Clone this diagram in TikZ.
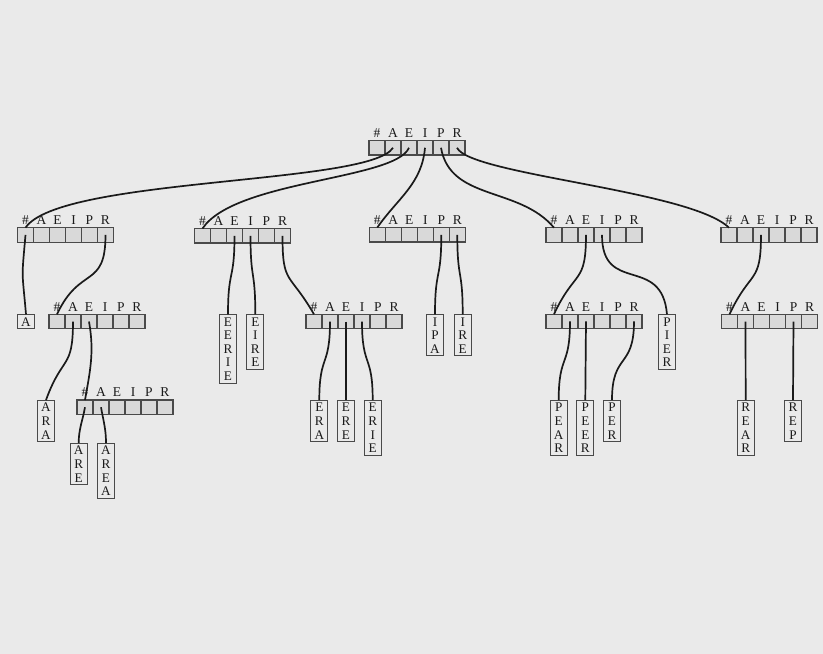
\documentclass[tikz,border=0pt]{standalone}
\usepackage{fontspec}
\setmainfont{Liberation Serif}
\definecolor{paper}{HTML}{EAEAEA}
\definecolor{cellfill}{HTML}{D9D9D9}
\definecolor{frame}{HTML}{4A4A4A}
\definecolor{ink}{HTML}{1A1A1A}

\tikzset{
  cell/.style={draw=frame, fill=cellfill, line width=1.15pt, minimum width=16pt,
    minimum height=14.5pt, inner sep=0pt, outer sep=0pt, anchor=north west},
  celllabel/.style={anchor=base, inner sep=0pt, text=ink,
    font=\fontsize{13.5}{13.6}\selectfont},
  leaf/.style={draw=frame, fill=paper, line width=1.15pt, anchor=north,
    text width=17pt, align=center, inner xsep=0pt, inner ysep=2.6pt,
    text=ink, font=\fontsize{13.2}{13.6}\selectfont},
  link/.style={draw=ink, line width=1.7pt},
  swing/.style={looseness=1.5},
}

% a trie node: six cells (#, A, E, I, P, R) with their letters above
% #1 name, #2 left x, #3 top y; cells are #1-1 ... #1-6
\newcommand\trienode[3]{%
  \foreach \k/\c in {1/\#,2/A,3/E,4/I,5/P,6/R}{%
    \node[cell] (#1-\k) at ({#2+(\k-1)*16},#3) {};
    \node[celllabel] (#1-l\k) at ({#2+(\k-1)*16+8},{#3-3.2}) {\c};
  }%
}

\begin{document}
\begin{tikzpicture}[x=1pt,y=-1pt]
  \path[fill=paper] (0,0) rectangle (823,654);
  \useasboundingbox (0,0) rectangle (823,654);

  % trie nodes
  \trienode{root}{369}{140.5}
  \trienode{na}{17.5}{227.7}
  \trienode{ne}{194.5}{228.5}
  \trienode{ni}{369.3}{227.5}
  \trienode{np}{546}{227.7}
  \trienode{nr}{721}{227.7}
  \trienode{nar}{49}{314.3}
  \trienode{ner}{306}{314.3}
  \trienode{npe}{546}{314.2}
  \trienode{nre}{721.5}{314.3}
  \trienode{nare}{77}{400}

  % words
  \node[leaf] (wA)     at (26,314.3)    {A};
  \node[leaf] (wARA)   at (46,400)      {A\\R\\A};
  \node[leaf] (wARE)   at (78.7,443)    {A\\R\\E};
  \node[leaf] (wAREA)  at (106,443)     {A\\R\\E\\A};
  \node[leaf] (wEERIE) at (228,314.3)   {E\\E\\R\\I\\E};
  \node[leaf] (wEIRE)  at (255.3,314.3) {E\\I\\R\\E};
  \node[leaf] (wERA)   at (319.3,400)   {E\\R\\A};
  \node[leaf] (wERE)   at (346,400)     {E\\R\\E};
  \node[leaf] (wERIE)  at (372.7,400)   {E\\R\\I\\E};
  \node[leaf] (wIPA)   at (435,314.3)   {I\\P\\A};
  \node[leaf] (wIRE)   at (462.7,314.3) {I\\R\\E};
  \node[leaf] (wPIER)  at (667,314.3)   {P\\I\\E\\R};
  \node[leaf] (wPEAR)  at (558.7,400)   {P\\E\\A\\R};
  \node[leaf] (wPEER)  at (585.3,400)   {P\\E\\E\\R};
  \node[leaf] (wPER)   at (612,400)     {P\\E\\R};
  \node[leaf] (wREAR)  at (745.7,400)   {R\\E\\A\\R};
  \node[leaf] (wREP)   at (793,400)     {R\\E\\P};

  % links out of the root
  \draw[link] (root-2.center) .. controls (370,185) and (60,177) .. (na-1.north);
  \draw[link] (root-3.center) .. controls (395,180) and (235,180) .. (ne-1.north);
  \draw[link] (root-4.center) to[out=-95,in=55] (ni-1.north);
  \draw[link] (root-5.center) to[out=-80,in=130] (np-1.north);
  \draw[link] (root-6.center) .. controls (470,175) and (690,190) .. (nr-1.north);

  % A subtree
  \draw[link] (na-1.center) to[out=-95,in=95,swing] (wA.north);
  \draw[link] (na-6.center) to[out=-90,in=65,swing] (nar-1.north);
  \draw[link] (nar-2.center) to[out=-90,in=70,swing] (wARA.north);
  \draw[link] (nar-3.center) to[out=-80,in=80] (nare-1.north);
  \draw[link] (nare-1.center) to[out=-100,in=90] (wARE.north);
  \draw[link] (nare-2.center) to[out=-80,in=90] (wAREA.north);

  % E subtree
  \draw[link] (ne-3.center) to[out=-90,in=90,swing] (wEERIE.north);
  \draw[link] (ne-4.center) to[out=-90,in=90,swing] (wEIRE.north);
  \draw[link] (ne-6.center) to[out=-90,in=120,swing] (ner-1.north);
  \draw[link] (ner-2.center) to[out=-90,in=90,swing] (wERA.north);
  \draw[link] (ner-3.center) -- (wERE.north);
  \draw[link] (ner-4.center) to[out=-90,in=90,swing] (wERIE.north);

  % I subtree
  \draw[link] (ni-5.center) to[out=-90,in=90,swing] (wIPA.north);
  \draw[link] (ni-6.center) to[out=-90,in=90,swing] (wIRE.north);

  % P subtree
  \draw[link] (np-3.center) to[out=-90,in=65,swing] (npe-1.north);
  \draw[link] (np-4.center) to[out=-90,in=95,swing] (wPIER.north);
  \draw[link] (npe-2.center) to[out=-90,in=90,swing] (wPEAR.north);
  \draw[link] (npe-3.center) -- (wPEER.north);
  \draw[link] (npe-6.center) to[out=-90,in=90,swing] (wPER.north);

  % R subtree
  \draw[link] (nr-3.center) to[out=-90,in=65,swing] (nre-1.north);
  \draw[link] (nre-2.center) -- (wREAR.north);
  \draw[link] (nre-5.center) -- (wREP.north);
\end{tikzpicture}
\end{document}
